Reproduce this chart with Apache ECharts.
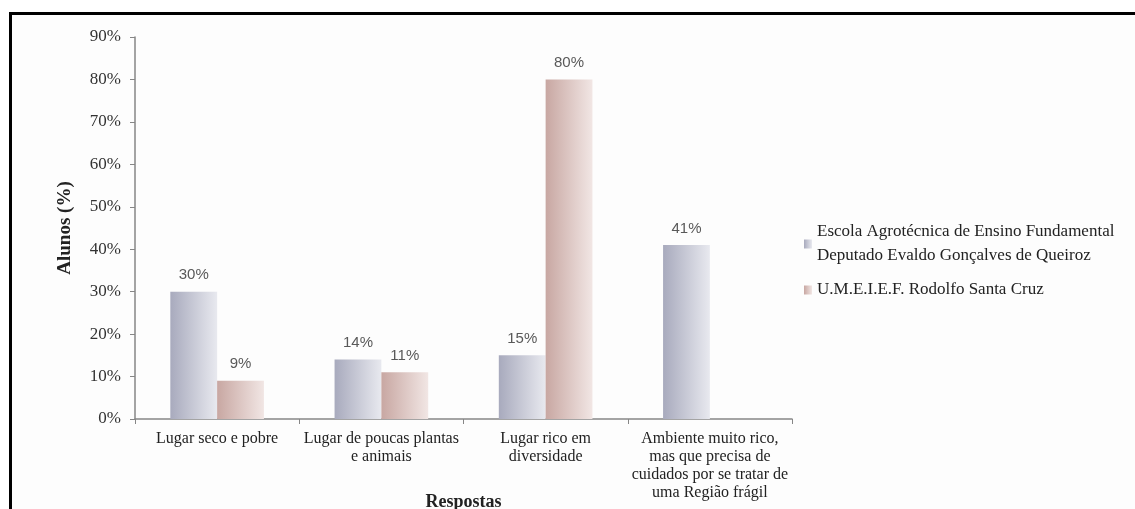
<!DOCTYPE html>
<html>
<head>
<meta charset="utf-8">
<script src="https://cdn.jsdelivr.net/npm/echarts@6/dist/echarts.min.js"></script>
<style>
html,body{margin:0;padding:0;background:#fff;overflow:hidden;width:100%;height:100%;}
#frame{position:absolute;left:9px;top:12px;right:0;bottom:0;border-left:3px solid #000;border-top:3px solid #000;background:#fdfdfd;}
#chart{position:absolute;left:0;top:0;width:100%;height:100%;}
</style>
</head>
<body>
<div id="frame"></div>
<div id="chart"></div>
<script>
const categories = [
  "Lugar seco e pobre",
  "Lugar de poucas plantas\ne animais",
  "Lugar rico em\ndiversidade",
  "Ambiente muito rico,\nmas que precisa de\ncuidados por se tratar de\numa Região frágil"
];
const seriesNames = [
  "Escola Agrotécnica de Ensino Fundamental\nDeputado Evaldo Gonçalves de Queiroz",
  "U.M.E.I.E.F. Rodolfo Santa Cruz"
];
const escolaValues = [30, 14, 15, 41];
const umeiefValues = [9, 11, 80, null];
const yTicks = [0, 10, 20, 30, 40, 50, 60, 70, 80, 90];

const serif = "'Liberation Serif', 'Times New Roman', serif";
const sans = "'Liberation Sans', Arial, sans-serif";

function grad(c1, c2) {
  return new echarts.graphic.LinearGradient(0, 0, 1, 0, [
    {offset: 0, color: c1}, {offset: 1, color: c2}
  ]);
}

const chart = echarts.init(document.getElementById('chart'), null, {renderer: 'canvas'});
chart.setOption({
  backgroundColor: 'transparent',
  animation: false,
  grid: {left: 135, right: 343, top: 37, bottom: 90, containLabel: false, outerBoundsMode: 'none'},
  legend: {
    orient: 'vertical',
    left: 799,
    top: 215,
    itemWidth: 8,
    itemHeight: 9,
    itemGap: 10,
    icon: 'rect',
    textStyle: {fontFamily: serif, fontSize: 17, color: '#222', lineHeight: 24},
    data: seriesNames
  },
  xAxis: {
    type: 'category',
    data: categories,
    name: 'Respostas',
    nameLocation: 'middle',
    nameGap: 74,
    nameMoveOverlap: false,
    nameTextStyle: {fontFamily: serif, fontSize: 18, fontWeight: 'bold', color: '#222'},
    axisLine: {lineStyle: {color: '#868686', width: 1.5}},
    axisTick: {show: true, length: 5, lineStyle: {color: '#868686'}},
    axisLabel: {fontFamily: serif, fontSize: 16, color: '#222', lineHeight: 18, margin: 11, interval: 0}
  },
  yAxis: {
    type: 'value',
    min: 0,
    max: 90,
    interval: 10,
    name: 'Alunos (%)',
    nameLocation: 'middle',
    nameGap: 60,
    nameMoveOverlap: false,
    nameRotate: 90,
    nameTextStyle: {fontFamily: serif, fontSize: 19, fontWeight: 'bold', color: '#222'},
    axisLine: {show: true, lineStyle: {color: '#868686', width: 1.5}},
    axisTick: {show: true, length: 5, lineStyle: {color: '#868686'}},
    splitLine: {show: false},
    axisLabel: {
      fontFamily: serif, fontSize: 17, color: '#333', margin: 14,
      formatter: v => yTicks.includes(v) ? v + '%' : ''
    }
  },
  series: [
    {
      name: seriesNames[0],
      type: 'bar',
      data: escolaValues,
      barGap: '0%',
      barCategoryGap: '43%',
      itemStyle: {color: grad('#a8aabd', '#e8e9ef')},
      label: {show: true, position: 'top', distance: 9, formatter: '{c}%',
              fontFamily: sans, fontSize: 15, color: '#595959'}
    },
    {
      name: seriesNames[1],
      type: 'bar',
      data: umeiefValues,
      itemStyle: {color: grad('#c8a7a2', '#f1e6e4')},
      label: {show: true, position: 'top', distance: 9, formatter: '{c}%',
              fontFamily: sans, fontSize: 15, color: '#595959'}
    }
  ]
});
</script>
</body>
</html>
